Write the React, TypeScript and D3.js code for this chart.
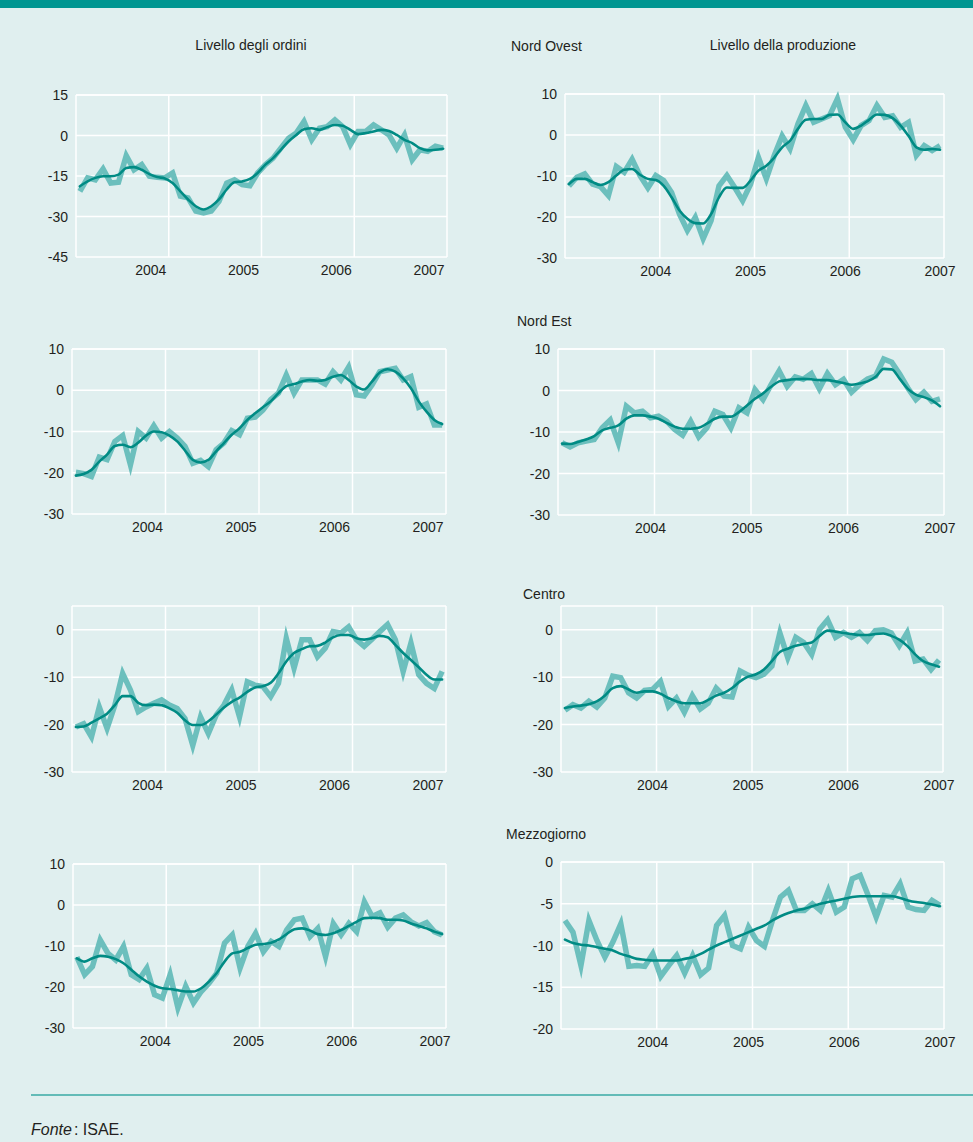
import React from "react";
import * as d3 from "d3";

// Monthly observations Jan 2003 – Dec 2006 (placed at mid-month)
const MONTHS = d3.range(48).map((i) => 2003 + (i + 0.5) / 12);
const YEAR_GRID = [2003, 2004, 2005, 2006, 2007];
const YEAR_LABELS = [2004, 2005, 2006, 2007];

const TICKS_15 = [15, 0, -15, -30, -45];
const TICKS_10 = [10, 0, -10, -20, -30];
const TICKS_0 = [0, -10, -20, -30];
const TICKS_5 = [0, -5, -10, -15, -20];

// Livello degli ordini – Nord Ovest
const ordiniNO_raw = [-20.7, -15.7, -16.4, -12.4, -17.6, -17.3, -7.5, -12.7, -10.8, -15.1, -15.5, -15.7,
  -13.9, -22.5, -23.1, -28, -28.7, -28, -24.4, -17.6, -16.4, -18.2, -18.6, -13.9,
  -10.8, -8.4, -4.7, -1, 0.9, 5.2, -1.6, 2.7, 3.3, 5.8, 3.3, -3.4,
  1.5, 1.5, 3.9, 2.1, 0.2, -4.7, 0.2, -9, -5.3, -5.9, -4, -4.7];
const ordiniNO_trend = [-18.8, -17, -15.7, -15.1, -15.1, -14.5, -12, -11.7, -12.7, -14.3, -15.4, -15.9,
  -17.6, -20.7, -23.7, -26.2, -27.4, -26.2, -23.7, -20, -17.3, -17, -16.1, -13.9,
  -10.8, -8.4, -5.3, -2.2, 0.2, 2.3, 2.7, 2.1, 3.1, 3.9, 3.6, 2.1,
  0.5, 0.9, 1.5, 2.1, 1.7, 0.2, -1.6, -2.8, -4.7, -5.5, -5.3, -4.9];
// Livello della produzione – Nord Ovest
const prodNO_raw = [-12.4, -10.3, -9.5, -12, -12.6, -14.8, -7.7, -9.1, -5.9, -9.9, -12.9, -9.9,
  -11.1, -14, -19.3, -23.3, -20.1, -25.3, -20.9, -12.4, -9.9, -12.8, -16, -12,
  -5.5, -10.7, -5, -0.2, -3.4, 2.7, 7.2, 3.1, 3.9, 4.7, 8.8, 1.9,
  -1.2, 2.3, 3.5, 7.2, 4.3, 4.7, 1.9, 3.1, -5, -2.6, -3.8, -2.6];
const prodNO_trend = [-12, -10.7, -10.7, -11.5, -12.2, -11.5, -9.9, -8.5, -8.3, -9.7, -10.7, -11,
  -12.4, -15.2, -18.4, -20.4, -21.5, -21.6, -19.3, -15.2, -12.8, -12.9, -12.9, -11.1,
  -8.7, -7.5, -5.5, -3, -1.4, 1.5, 3.7, 3.9, 3.9, 4.9, 5, 3.1,
  1.5, 2.3, 3.7, 5, 4.9, 4.1, 2.3, -0.2, -3, -3.6, -3.4, -3.6];
// Livello degli ordini – Nord Est
const ordiniNE_raw = [-19.9, -20.2, -20.9, -16.2, -16.8, -12.4, -11, -18.1, -10, -11.6, -8.6, -11.6,
  -10, -11.6, -13.6, -17.7, -17, -18.5, -14.4, -12.8, -9.8, -10.8, -6.8, -6.5,
  -4.8, -2.3, -0.7, 3.7, -0.7, 2.5, 2.5, 2.5, 1.5, 4.5, 2.5, 5.6,
  -1.1, -1.4, 1.3, 4.5, 4.9, 5.3, 2.5, 3.3, -4.1, -3.3, -8.4, -8.4];
const ordiniNE_trend = [-20.7, -20.3, -19.3, -17.3, -15.6, -13.5, -13.2, -13.8, -12.7, -11, -10, -10.2,
  -11, -12.4, -14.6, -16.9, -17.5, -16.9, -14.8, -12.8, -10.8, -9.2, -7.2, -5.6,
  -4.1, -2.7, -0.7, 1, 1.5, 2.1, 2.5, 2.3, 2.5, 3.3, 3.7, 2.5,
  0.9, 0.2, 2.1, 4.3, 5.1, 4.5, 2.9, 0.5, -2.7, -5.2, -7.2, -8.2];
// Livello della produzione – Nord Est
const prodNE_raw = [-12.6, -13.6, -12.6, -12.2, -11.8, -9, -7.1, -12.6, -3.8, -5.4, -5, -6.6,
  -6.2, -7.4, -9.4, -10.8, -7.4, -11.2, -9, -5, -5.8, -9, -4.2, -5.4,
  0.2, -2.2, 1.4, 4.7, 1, 3.3, 2.7, 4.1, 0.4, 4.1, 1.4, 2.7,
  -0.4, 1.4, 2.8, 3.5, 7.6, 6.8, 3.9, 0.6, -2.2, -0.4, -2.6, -2];
const prodNE_trend = [-12.8, -12.9, -12.4, -11.8, -11, -9.6, -9, -8.4, -6.8, -6, -6, -6.3,
  -6.8, -7.8, -8.7, -9.2, -9.2, -9, -8, -6.8, -6.3, -6.3, -5.2, -3.6,
  -2, -0.7, 0.9, 2.2, 2.5, 2.7, 2.8, 2.7, 2.5, 2.5, 2.2, 1.8,
  1.4, 1.7, 2.2, 3.3, 5.2, 5.1, 2.8, 0.4, -1, -1.6, -2.4, -3.8];
// Livello degli ordini – Centro
const ordiniCE_raw = [-20.5, -19.8, -22.6, -16.3, -20.8, -15.9, -9.2, -12.7, -17.3, -16.3, -15.5, -14.8,
  -15.9, -16.6, -18.7, -24.4, -18.4, -21.9, -18, -15.9, -12.7, -18.4, -11, -11.7,
  -12, -14.1, -11.3, -1.8, -8.1, -2.1, -2.1, -5.7, -3.9, -0.4, -0.7, 0.6,
  -2.1, -3.5, -2, -0.4, 1.1, -2.1, -8.8, -2.8, -9.5, -11.3, -12.4, -8.8];
const ordiniCE_trend = [-20.5, -20.4, -19.6, -18.7, -17.7, -15.9, -14, -14, -15.4, -15.9, -15.8, -15.9,
  -16.6, -17.5, -19.1, -20.1, -20.1, -19.3, -17.9, -16.4, -15.2, -14.3, -13.1, -12.2,
  -11.9, -11.2, -9.2, -6.7, -4.9, -4.1, -3.5, -3.4, -2.7, -1.6, -1.1, -1.1,
  -1.8, -2.1, -1.8, -1.3, -1.6, -3.2, -4.9, -6.4, -7.9, -9.5, -10.5, -10.5];
// Livello della produzione – Centro
const prodCE_raw = [-17, -15.8, -16.5, -15.1, -16.3, -14.4, -9.8, -10.1, -13.3, -14.4, -12.8, -12.6,
  -10.9, -16.2, -14.4, -17.4, -13.9, -16.7, -15.5, -12.3, -14, -14.2, -8.7, -9.6,
  -10.1, -9.4, -7.7, -0.7, -5.9, -1.6, -2.7, -5.2, 0.1, 2.1, -1.6, -0.6,
  -1.6, -0.6, -2.3, -0.2, 0, -0.7, -3.4, -0.6, -6.6, -6.2, -8.4, -6.4];
const prodCE_trend = [-16.5, -16.2, -16, -15.7, -15.1, -13.9, -12.3, -11.9, -12.6, -13.3, -13, -13,
  -13.5, -14.4, -15.1, -15.5, -15.5, -15.5, -14.8, -13.9, -13.3, -12.3, -10.9, -9.9,
  -9.4, -8.4, -6.6, -4.7, -4, -3.4, -3, -2.7, -1.3, -0.2, -0.4, -0.7,
  -0.9, -1.1, -1.1, -0.9, -0.8, -1.3, -2.1, -3.4, -5.2, -6.6, -7.3, -7.8];
// Livello degli ordini – Mezzogiorno
const ordiniMZ_raw = [-12.7, -17, -15, -8.5, -11.8, -13.4, -10.1, -17, -18.2, -15.4, -21.9, -22.7,
  -17, -25.1, -19.8, -23.9, -21.1, -19.1, -16.6, -9.3, -7.3, -15.4, -10.1, -6.9,
  -11.4, -8.9, -10.1, -6.1, -3.6, -3.2, -7.7, -5.7, -12.6, -4.5, -7.3, -4.5,
  -6.5, 0.8, -2.8, -1.9, -5.4, -3.2, -2.4, -4.1, -5.1, -4.3, -6.5, -7.3];
const ordiniMZ_trend = [-13, -13.8, -13, -12.4, -12.6, -13.2, -14.2, -15.8, -17.4, -18.7, -19.7, -20.3,
  -20.5, -20.8, -21.1, -21.1, -20.3, -18.7, -16.6, -13.8, -11.8, -11.4, -10.5, -9.7,
  -9.5, -9.2, -8.4, -7.1, -5.9, -5.7, -6.2, -7.1, -7.3, -6.9, -6.1, -5.1,
  -4.1, -3.2, -3.1, -3.2, -3.6, -3.6, -3.8, -4.5, -5.1, -5.7, -6.5, -7.1];
// Livello della produzione – Mezzogiorno
const prodMZ_raw = [-7, -8.4, -12.4, -7, -9.4, -11.4, -9.6, -7.4, -12.5, -12.4, -12.5, -11,
  -13.7, -12.4, -11.2, -13.3, -11.2, -13.5, -12.7, -7.6, -6.4, -10, -10.4, -7.8,
  -9.4, -10.1, -7, -4.2, -3.4, -5.8, -5.8, -5, -5.8, -3.4, -6, -5.4,
  -2, -1.6, -4, -6.6, -4, -4.2, -2.6, -5.4, -5.7, -5.8, -4.6, -5.2];
const prodMZ_trend = [-9.3, -9.7, -9.9, -10, -10.2, -10.4, -10.6, -11, -11.3, -11.6, -11.7, -11.8,
  -11.8, -11.8, -11.8, -11.6, -11.4, -11, -10.5, -10, -9.6, -9.2, -8.8, -8.4,
  -8, -7.6, -7, -6.5, -6.1, -5.8, -5.6, -5.3, -5, -4.8, -4.6, -4.4,
  -4.2, -4.1, -4.1, -4.1, -4.1, -4.1, -4.3, -4.6, -4.8, -4.9, -5.1, -5.3];

const BG = "#e0efef";
const RAW = "#6cbfbd";
const TREND = "#008b84";
const TEXT = "#231f20";
const FONT = "'Liberation Sans', Arial, Helvetica, sans-serif";

type PanelDef = {
  raw: number[];
  trend: number[];
  x0: number; x1: number; y0: number; y1: number;
  domain: [number, number];
  ticks: number[];
  labelOffset: number;
};

const panels: PanelDef[] = [
  { raw: ordiniNO_raw, trend: ordiniNO_trend, x0: 76, x1: 447, y0: 95, y1: 257, domain: [-45, 15], ticks: TICKS_15, labelOffset: -18 },
  { raw: prodNO_raw, trend: prodNO_trend, x0: 565, x1: 944, y0: 94, y1: 258, domain: [-30, 10], ticks: TICKS_10, labelOffset: -4 },
  { raw: ordiniNE_raw, trend: ordiniNE_trend, x0: 72, x1: 446, y0: 349, y1: 514, domain: [-30, 10], ticks: TICKS_10, labelOffset: -18 },
  { raw: prodNE_raw, trend: prodNE_trend, x0: 558, x1: 944, y0: 349, y1: 515, domain: [-30, 10], ticks: TICKS_10, labelOffset: -4 },
  { raw: ordiniCE_raw, trend: ordiniCE_trend, x0: 72, x1: 446, y0: 606, y1: 772, domain: [-30, 5], ticks: TICKS_0, labelOffset: -18 },
  { raw: prodCE_raw, trend: prodCE_trend, x0: 561, x1: 943, y0: 606, y1: 772, domain: [-30, 5], ticks: TICKS_0, labelOffset: -4 },
  { raw: ordiniMZ_raw, trend: ordiniMZ_trend, x0: 73, x1: 446, y0: 864, y1: 1028, domain: [-30, 10], ticks: TICKS_10, labelOffset: -11 },
  { raw: prodMZ_raw, trend: prodMZ_trend, x0: 561, x1: 944, y0: 862, y1: 1029, domain: [-20, 0], ticks: TICKS_5, labelOffset: -4 },
];

const titles = [
  { text: "Livello degli ordini", x: 251, y: 50, anchor: "middle" },
  { text: "Livello della produzione", x: 783, y: 50, anchor: "middle" },
  { text: "Nord Ovest", x: 511, y: 51, anchor: "start" },
  { text: "Nord Est", x: 517, y: 326, anchor: "start" },
  { text: "Centro", x: 523, y: 599, anchor: "start" },
  { text: "Mezzogiorno", x: 506, y: 839, anchor: "start" },
];

function Panel({ p }: { p: PanelDef }) {
  const x = d3.scaleLinear().domain([2003, 2007]).range([p.x0, p.x1]);
  const y = d3.scaleLinear().domain(p.domain).range([p.y1, p.y0]);
  const rawLine = d3.line<number>().x((_, i) => x(MONTHS[i])).y((d) => y(d));
  const trendLine = d3
    .line<number>()
    .x((_, i) => x(MONTHS[i]))
    .y((d) => y(d))
    .curve(d3.curveMonotoneX);
  return (
    <g>
      {p.ticks.concat([p.domain[1]]).map((t, i) => (
        <line key={"h" + i} x1={p.x0} x2={p.x1} y1={y(t)} y2={y(t)} stroke="#fff" strokeWidth={1.5} />
      ))}
      {YEAR_GRID.map((yr) => (
        <line key={"v" + yr} x1={x(yr)} x2={x(yr)} y1={p.y0} y2={p.y1} stroke="#fff" strokeWidth={1.5} />
      ))}
      <path d={rawLine(p.raw) || ""} fill="none" stroke={RAW} strokeWidth={5.5} strokeLinejoin="miter" strokeMiterlimit={6} />
      <path d={trendLine(p.trend) || ""} fill="none" stroke={TREND} strokeWidth={2.6} strokeLinecap="round" />
      {p.ticks.map((t) => (
        <text key={"yl" + t} x={p.x0 - 8} y={y(t)} dy="0.36em" textAnchor="end" fontSize={14} fill={TEXT}>
          {t}
        </text>
      ))}
      {YEAR_LABELS.map((yr) => (
        <text key={"xl" + yr} x={x(yr) + p.labelOffset} y={p.y1 + 18} textAnchor="middle" fontSize={14} fill={TEXT}>
          {yr}
        </text>
      ))}
    </g>
  );
}

export default function App() {
  const W = 973;
  const H = 1142;
  return (
    <svg
      width={W}
      height={H}
      viewBox={`0 0 ${W} ${H}`}
      style={{ position: "absolute", left: 0, top: 0, display: "block" }}
      fontFamily={FONT}
    >
      <rect x={0} y={0} width={W} height={H} fill={BG} />
      <rect x={0} y={0} width={W} height={8} fill="#009691" />
      {titles.map((t) => (
        <text key={t.text} x={t.x} y={t.y} textAnchor={t.anchor as any} fontSize={14} fill={TEXT}>
          {t.text}
        </text>
      ))}
      {panels.map((p, i) => (
        <Panel key={i} p={p} />
      ))}
      <line x1={31} x2={W} y1={1095} y2={1095} stroke="#3aaaa5" strokeWidth={1.5} />
      <text x={31} y={1135} fontSize={16} fill={TEXT}>
        <tspan fontStyle="italic">Fonte</tspan>
        <tspan dx={2}>: ISAE.</tspan>
      </text>
    </svg>
  );
}
